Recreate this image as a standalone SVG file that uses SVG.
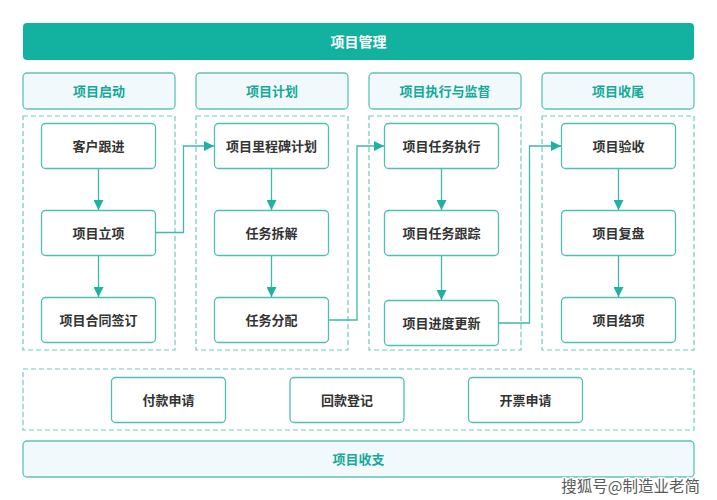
<svg xmlns="http://www.w3.org/2000/svg" width="717" height="500" viewBox="0 0 717 500">
<style>
.hdr{fill:#f1f9fc;stroke:#5cc4b6;stroke-width:1.3}
.box{fill:none;stroke:#6ccbbd;stroke-width:1.2;stroke-dasharray:5 3}
.node{fill:#ffffff;stroke:#4fbfb1;stroke-width:1.3}
.t{font-family:"Noto Sans CJK SC","Noto Sans",sans-serif;font-size:13px;font-weight:bold;text-anchor:middle;dominant-baseline:central}
.tn{fill:#333333}
.th{fill:#17a997}
.c{fill:none;stroke:#3dbaa9;stroke-width:1.3}
</style>
<defs>
<marker id="ah" viewBox="0 0 10 10" refX="10" refY="5" markerWidth="10" markerHeight="10" markerUnits="userSpaceOnUse" orient="auto">
<path d="M0,0 L10,5 L0,10 Z" fill="#1db3a1"/>
</marker>
</defs>
<rect width="717" height="500" fill="#ffffff"/>
<g id="top"><rect x="23" y="23" width="671" height="37" rx="4" fill="#12b1a0"/><text class="t" x="358.5" y="40.5" fill="#ffffff" style="font-size:14px">项目管理</text></g>

<g id="h1"><rect class="hdr" x="23" y="73" width="152" height="36" rx="4"/><text class="t th" x="99" y="90">项目启动</text></g>
<g id="h2"><rect class="hdr" x="196" y="73" width="152" height="36" rx="4"/><text class="t th" x="272" y="90">项目计划</text></g>
<g id="h3"><rect class="hdr" x="369" y="73" width="152" height="36" rx="4"/><text class="t th" x="445" y="90">项目执行与监督</text></g>
<g id="h4"><rect class="hdr" x="542" y="73" width="152" height="36" rx="4"/><text class="t th" x="618" y="90">项目收尾</text></g>

<g id="c1"><rect class="box" x="23" y="116" width="152" height="234"/></g>
<g id="c2"><rect class="box" x="196" y="116" width="152" height="234"/></g>
<g id="c3"><rect class="box" x="369" y="116" width="152" height="234"/></g>
<g id="c4"><rect class="box" x="542" y="116" width="152" height="234"/></g>

<g id="n1"><rect class="node" x="41.5" y="123.5" width="114" height="45" rx="4"/><text class="t tn" x="98.5" y="145">客户跟进</text></g>
<g id="n2"><rect class="node" x="41.5" y="210.5" width="114" height="45" rx="4"/><text class="t tn" x="98.5" y="232">项目立项</text></g>
<g id="n3"><rect class="node" x="41.5" y="297.5" width="114" height="45" rx="4"/><text class="t tn" x="98.5" y="319">项目合同签订</text></g>

<g id="n4"><rect class="node" x="214.5" y="123.5" width="114" height="45" rx="4"/><text class="t tn" x="271.5" y="145">项目里程碑计划</text></g>
<g id="n5"><rect class="node" x="214.5" y="210.5" width="114" height="45" rx="4"/><text class="t tn" x="271.5" y="232">任务拆解</text></g>
<g id="n6"><rect class="node" x="214.5" y="297.5" width="114" height="45" rx="4"/><text class="t tn" x="271.5" y="319">任务分配</text></g>

<g id="n7"><rect class="node" x="384.5" y="123.5" width="114" height="45" rx="4"/><text class="t tn" x="441.5" y="145">项目任务执行</text></g>
<g id="n8"><rect class="node" x="384.5" y="210.5" width="114" height="45" rx="4"/><text class="t tn" x="441.5" y="232">项目任务跟踪</text></g>
<g id="n9"><rect class="node" x="384.5" y="300.5" width="114" height="45" rx="4"/><text class="t tn" x="441.5" y="322">项目进度更新</text></g>

<g id="n10"><rect class="node" x="561.5" y="123.5" width="114" height="45" rx="4"/><text class="t tn" x="618.5" y="145">项目验收</text></g>
<g id="n11"><rect class="node" x="561.5" y="210.5" width="114" height="45" rx="4"/><text class="t tn" x="618.5" y="232">项目复盘</text></g>
<g id="n12"><rect class="node" x="561.5" y="297.5" width="114" height="45" rx="4"/><text class="t tn" x="618.5" y="319">项目结项</text></g>

<g id="fin"><rect class="box" x="23" y="369" width="671" height="61"/></g>
<g id="n13"><rect class="node" x="111.5" y="377.5" width="114" height="45" rx="4"/><text class="t tn" x="168.5" y="399">付款申请</text></g>
<g id="n14"><rect class="node" x="290" y="377.5" width="114" height="45" rx="4"/><text class="t tn" x="347" y="399">回款登记</text></g>
<g id="n15"><rect class="node" x="468.5" y="377.5" width="114" height="45" rx="4"/><text class="t tn" x="525.5" y="399">开票申请</text></g>

<g id="bottom"><rect class="hdr" x="23" y="441" width="671" height="36" rx="4"/><text class="t th" x="358.5" y="458">项目收支</text></g>

<g id="connectors">
<path class="c" d="M98.5,168.5 V210" marker-end="url(#ah)"/>
<path class="c" d="M98.5,255.5 V297" marker-end="url(#ah)"/>
<path class="c" d="M271.5,168.5 V210" marker-end="url(#ah)"/>
<path class="c" d="M271.5,255.5 V297" marker-end="url(#ah)"/>
<path class="c" d="M441.5,168.5 V210" marker-end="url(#ah)"/>
<path class="c" d="M441.5,255.5 V300" marker-end="url(#ah)"/>
<path class="c" d="M618.5,168.5 V210" marker-end="url(#ah)"/>
<path class="c" d="M618.5,255.5 V297" marker-end="url(#ah)"/>
<path class="c" d="M155.5,232.5 H183.5 V146 H214" marker-end="url(#ah)"/>
<path class="c" d="M328.5,320 H357 V146 H384" marker-end="url(#ah)"/>
<path class="c" d="M498.5,323 H529.5 V146 H561" marker-end="url(#ah)"/>
</g>

<text x="700" y="492" text-anchor="end" font-family="Noto Sans CJK SC,sans-serif" font-size="15.5" fill="#5a5a5a" stroke="#ffffff" stroke-width="2.5" paint-order="stroke">搜狐号@制造业老简</text>
</svg>
